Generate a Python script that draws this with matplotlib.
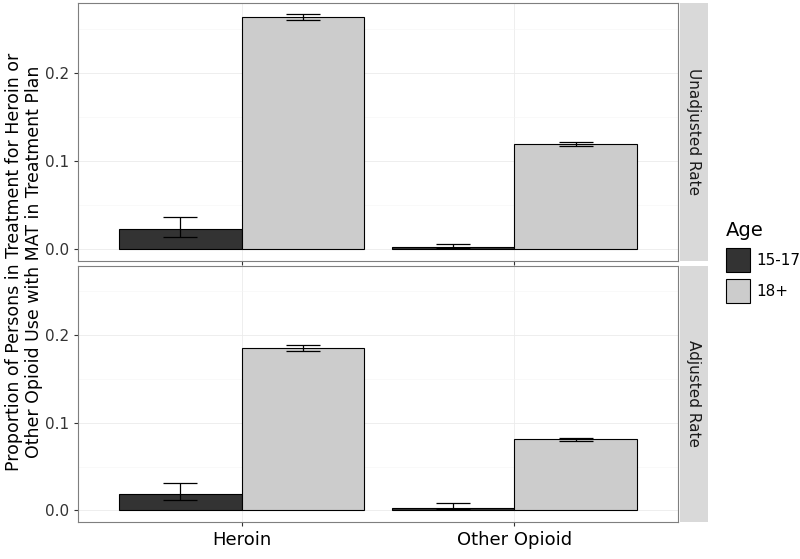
import matplotlib
matplotlib.use("Agg")
import matplotlib.pyplot as plt
import numpy as np
from matplotlib.patches import Patch

categories = ["Heroin", "Other Opioid"]
ages = ["15-17", "18+"]
panels = ["Unadjusted Rate", "Adjusted Rate"]
values = {
    "Unadjusted Rate": {"15-17": [0.023, 0.003], "18+": [0.263, 0.119]},
    "Adjusted Rate": {"15-17": [0.019, 0.003], "18+": [0.185, 0.081]},
}
lower = {
    "Unadjusted Rate": {"15-17": [0.014, 0.001], "18+": [0.260, 0.117]},
    "Adjusted Rate": {"15-17": [0.012, 0.001], "18+": [0.182, 0.079]},
}
upper = {
    "Unadjusted Rate": {"15-17": [0.037, 0.006], "18+": [0.266, 0.121]},
    "Adjusted Rate": {"15-17": [0.031, 0.008], "18+": [0.189, 0.083]},
}
colors = {"15-17": "#333333", "18+": "#cccccc"}

fig = plt.figure(figsize=(8, 5.59), dpi=100)
W, H = 800, 559
axes_px = [(3, 261), (266, 522)]
L, R = 78, 678
x = np.arange(1, len(categories) + 1)
w = 0.45
for (top, bot), panel in zip(axes_px, panels):
    ax = fig.add_axes([L / W, 1 - bot / H, (R - L) / W, (bot - top) / H])
    for i, age in enumerate(ages):
        pos = x + (i - 0.5) * w
        ax.bar(pos, values[panel][age], width=w, color=colors[age], edgecolor="black", linewidth=0.8, zorder=3)
        v = np.array(values[panel][age])
        err = [v - np.array(lower[panel][age]), np.array(upper[panel][age]) - v]
        ax.errorbar(pos, v, yerr=err, fmt="none", ecolor="black", elinewidth=0.9, capsize=12, capthick=0.9, zorder=4)
    ax.set_xlim(0.4, 2.6)
    ax.set_ylim(-0.0133, 0.279)
    ax.set_yticks([0.0, 0.1, 0.2])
    ax.set_yticklabels(["0.0", "0.1", "0.2"])
    ax.set_xticks(x)
    ax.grid(True, color="#ebebeb", linewidth=0.6, zorder=0)
    ax.set_yticks([0.05, 0.15, 0.25], minor=True)
    ax.grid(True, which="minor", color="#f5f5f5", linewidth=0.4, zorder=0)
    for s in ax.spines.values():
        s.set_color("#7f7f7f")
        s.set_linewidth(0.8)
    ax.tick_params(axis="both", colors="#333333", labelsize=11, length=3)
    ax.tick_params(axis="y", which="minor", length=0)
    if panel == panels[-1]:
        ax.set_xticklabels(categories, fontsize=13, color="black")
    else:
        ax.set_xticklabels([])
    sax = fig.add_axes([680 / W, 1 - bot / H, 28 / W, (bot - top) / H])
    sax.set_facecolor("#d9d9d9")
    sax.set_xticks([]); sax.set_yticks([])
    for s in sax.spines.values():
        s.set_visible(False)
    sax.text(0.5, 0.5, panel, rotation=-90, ha="center", va="center", fontsize=11, color="#1a1a1a", transform=sax.transAxes)

fig.text(24 / W, 1 - 262 / H, "Proportion of Persons in Treatment for Heroin or\nOther Opioid Use with MAT in Treatment Plan",
         rotation=90, ha="center", va="center", fontsize=12.5, linespacing=1.1)
handles = [Patch(facecolor=colors[a], edgecolor="black", linewidth=0.8) for a in ages]
fig.legend(handles, ages, title="Age", loc="center left", bbox_to_anchor=(712 / W, 1 - 262 / H),
           frameon=False, fontsize=11, title_fontsize=14, handlelength=1.6, handleheight=2.0,
           handletextpad=0.4, alignment="left")
fig.savefig("out.png", dpi=100)
